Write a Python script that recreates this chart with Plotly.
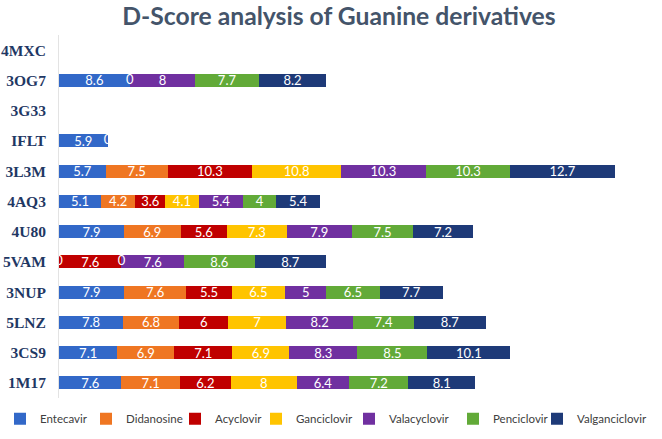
import plotly.graph_objects as go

# categories, bottom to top as drawn
proteins = ['1M17', '3CS9', '5LNZ', '3NUP', '5VAM', '4U80', '4AQ3', '3L3M', 'IFLT', '3G33', '3OG7', '4MXC']

entecavir = [7.6, 7.1, 7.8, 7.9, 0, 7.9, 5.1, 5.7, 5.9, None, 8.6, None]
didanosine = [7.1, 6.9, 6.8, 7.6, None, 6.9, 4.2, 7.5, 0, None, 0, None]
acyclovir = [6.2, 7.1, 6, 5.5, 7.6, 5.6, 3.6, 10.3, None, None, None, None]
ganciclovir = [8, 6.9, 7, 6.5, 0, 7.3, 4.1, 10.8, None, None, None, None]
valacyclovir = [6.4, 8.3, 8.2, 5, 7.6, 7.9, 5.4, 10.3, None, None, 8, None]
penciclovir = [7.2, 8.5, 7.4, 6.5, 8.6, 7.5, 4, 10.3, None, None, 7.7, None]
valganciclovir = [8.1, 10.1, 8.7, 7.7, 8.7, 7.2, 5.4, 12.7, None, None, 8.2, None]

series = [
    ('Entecavir', entecavir, '#3268C8'),
    ('Didanosine', didanosine, '#EF7622'),
    ('Acyclovir', acyclovir, '#C00000'),
    ('Ganciclovir', ganciclovir, '#FFC400'),
    ('Valacyclovir', valacyclovir, '#7030A0'),
    ('Penciclovir', penciclovir, '#62AA38'),
    ('Valganciclovir', valganciclovir, '#1E3A78'),
]

# left edge (px) of each legend entry along the bottom row
legend_px = [0, 86, 175, 256, 349, 453, 537]

fig = go.Figure()
running = [0.0] * len(proteins)
zero_x, zero_y = [], []
for k, (name, vals, col) in enumerate(series):
    lg = 'legend' if k == 0 else f'legend{k + 1}'
    fig.add_trace(go.Bar(
        y=proteins, x=vals, name=name, orientation='h',
        marker=dict(color=col, line=dict(width=0)),
        width=0.43,
        text=[None if v in (None, 0) else f'{v:g}' for v in vals],
        textposition='inside', insidetextanchor='middle', textangle=0,
        textfont=dict(family='Lato', size=13, color='white'),
        legend=lg,
    ))
    fig.update_layout({lg: dict(
        xref='container', yref='container',
        x=legend_px[k] / 662, xanchor='left', y=0.046, yanchor='middle',
        font=dict(family='Lato', size=11.5, color='#404040'),
        bgcolor='rgba(0,0,0,0)', borderwidth=0,
    )})
    # zero-valued segments still get a "0" label at the stack edge
    for i, v in enumerate(vals):
        if v == 0:
            zero_x.append(running[i])
            zero_y.append(proteins[i])
        if v:
            running[i] += v

fig.add_trace(go.Scatter(
    x=zero_x, y=zero_y, mode='text', text=['0'] * len(zero_x),
    textfont=dict(family='Lato', size=13, color='white'),
    showlegend=False, hoverinfo='skip', cliponaxis=True,
))

fig.update_layout(
    width=662, height=439,
    barmode='stack',
    plot_bgcolor='white', paper_bgcolor='white',
    margin=dict(l=59, r=11, t=35, b=41, autoexpand=False),
    title=dict(text='<b>D-Score analysis of Guanine derivatives</b>',
               x=0.512, xanchor='center', y=0.962, yanchor='middle',
               font=dict(family='Lato', size=24.7, color='#44546A')),
    uniformtext=dict(mode='show', minsize=12),
    showlegend=True,
)
fig.update_xaxes(range=[0, 72], visible=False, showgrid=False, zeroline=False)
fig.update_yaxes(categoryorder='array', categoryarray=proteins,
                 range=[-0.5, len(proteins) - 0.5], automargin=False,
                 showline=True, linecolor='#E3E3E3', linewidth=1,
                 showgrid=False, ticks='', ticklabelstandoff=9,
                 tickfont=dict(family='Liberation Serif', size=15.5, color='#1F3864', weight='bold'))

# page body has a default 8px margin; drop it so the figure sits at the window corner
fig.write_html('out.html', config={'displayModeBar': False},
               post_script="document.body.style.margin='0';")
